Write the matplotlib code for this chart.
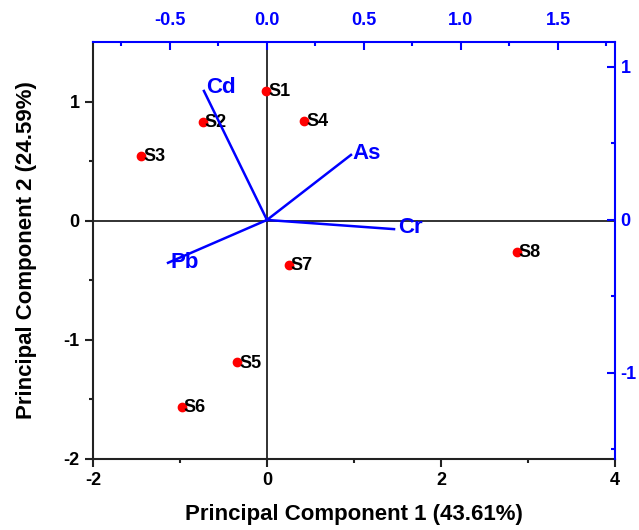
import matplotlib
matplotlib.use('Agg')
import matplotlib.pyplot as plt
import numpy as np

plt.rcParams['font.family'] = ['Liberation Sans', 'DejaVu Sans']
plt.rcParams['font.weight'] = 'bold'
plt.rcParams['axes.unicode_minus'] = False

# sample scores (bottom / left axes)
samples = ['S1', 'S2', 'S3', 'S4', 'S5', 'S6', 'S7', 'S8']
pc1 = [-0.01, -0.74, -1.45, 0.43, -0.34, -0.98, 0.25, 2.87]
pc2 = [1.09, 0.83, 0.54, 0.84, -1.19, -1.56, -0.37, -0.26]

# variable loadings (top / right axes)
metals = ['Cd', 'As', 'Cr', 'Pb']
load1 = [-0.325, 0.433, 0.655, -0.51]
load2 = [0.843, 0.425, -0.06, -0.28]

blue = '#0000ff'

fig = plt.figure(figsize=(6.39, 5.30), dpi=100)
pos = [0.1455, 0.134, 0.8169, 0.7868]
ax = fig.add_axes(pos)
ax.set_xlim(-2, 4)
ax.set_ylim(-2, 1.5)
ax.axhline(0, color='#222222', lw=1.3, zorder=1)
ax.axvline(0, color='#222222', lw=1.3, zorder=1)

ax.plot(pc1, pc2, 'o', color='red', ms=6, zorder=3)
for s, x, y in zip(samples, pc1, pc2):
    ax.text(x + 0.025, y - 0.005, s, fontsize=13, fontweight='bold', va='center', ha='left', zorder=4)

ax.set_xticks([-2, 0, 2, 4])
ax.set_xticks([-1, 1, 3], minor=True)
ax.set_yticks([-2, -1, 0, 1])
ax.set_yticks([-1.5, -0.5, 0.5], minor=True)
ax.tick_params(which='major', direction='out', length=6, width=1.5, labelsize=13, color='#222222')
ax.tick_params(which='minor', direction='out', length=3, width=1.5, color='#222222')
for lab in ax.get_xticklabels() + ax.get_yticklabels():
    lab.set_fontweight('bold')
ax.spines['top'].set_visible(False)
ax.spines['right'].set_visible(False)
for sp in ['left', 'bottom']:
    ax.spines[sp].set_linewidth(1.5)
    ax.spines[sp].set_color('#222222')
ax.set_xlabel('Principal Component 1 (43.61%)', fontsize=16, fontweight='bold', labelpad=11)
ax.set_ylabel('Principal Component 2 (24.59%)', fontsize=16, fontweight='bold', labelpad=19)

# loadings axes
ax2 = fig.add_axes(pos, facecolor='none')
ax2.set_xlim(-0.897, 1.794)
ax2.set_ylim(-1.562, 1.163)
ax2.xaxis.tick_top()
ax2.yaxis.tick_right()
ax2.set_xticks([-0.5, 0.0, 0.5, 1.0, 1.5])
ax2.set_xticklabels(['-0.5', '0.0', '0.5', '1.0', '1.5'])
ax2.set_xticks([-0.75, -0.25, 0.25, 0.75, 1.25, 1.75], minor=True)
ax2.set_yticks([-1, 0, 1])
ax2.set_yticks([-1.5, -0.5, 0.5], minor=True)
ax2.tick_params(which='major', direction='in', length=6, width=1.5, labelsize=13,
                color=blue, labelcolor=blue)
ax2.tick_params(axis='x', which='major', pad=9)
ax2.tick_params(axis='y', which='major', pad=4)
ax2.tick_params(which='minor', direction='in', length=3, width=1.5, color=blue)
for lab in ax2.get_xticklabels() + ax2.get_yticklabels():
    lab.set_fontweight('bold')
ax2.spines['left'].set_visible(False)
ax2.spines['bottom'].set_visible(False)
for sp in ['top', 'right']:
    ax2.spines[sp].set_linewidth(1.5)
    ax2.spines[sp].set_color(blue)

for m, x, y in zip(metals, load1, load2):
    ax2.plot([0, x], [0, y], color=blue, lw=1.8, zorder=2)

ax2.text(load1[0] + 0.01, load2[0] + 0.025, 'Cd', color=blue, fontsize=16, fontweight='bold', ha='left', va='center')
ax2.text(load1[1] + 0.01, load2[1] + 0.01, 'As', color=blue, fontsize=16, fontweight='bold', ha='left', va='center')
ax2.text(load1[2] + 0.02, load2[2] + 0.01, 'Cr', color=blue, fontsize=16, fontweight='bold', ha='left', va='center')
ax2.text(load1[3] + 0.015, load2[3] + 0.0, 'Pb', color=blue, fontsize=16, fontweight='bold', ha='left', va='center')

fig.savefig('out.png', dpi=100)
